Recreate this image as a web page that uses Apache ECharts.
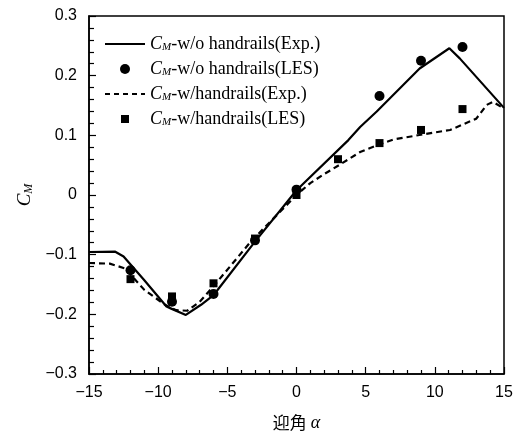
<!DOCTYPE html>
<html><head><meta charset="utf-8">
<script src="https://cdn.jsdelivr.net/npm/echarts@6/dist/echarts.min.js"></script>
<style>html,body{margin:0;padding:0;background:#fff}#c{width:528px;height:434px}</style>
</head><body><div id="c"></div>
<script>
// ---- data ----
const woExpX = [-15, -13.1, -12.5, -11, -9.4, -9.1, -8, -6.9, -6, -3.1, 0, 3.75, 4.6, 5.8, 8.9, 11.05, 11.8, 15];
const woExpY = [-0.0955, -0.095, -0.103, -0.143, -0.187, -0.19, -0.201, -0.184, -0.168, -0.081, 0.008, 0.092, 0.114, 0.14, 0.212, 0.246, 0.229, 0.146];
const woLesX = [-12, -9, -6, -3, 0, 6, 9, 12];
const woLesY = [-0.126, -0.179, -0.166, -0.076, 0.009, 0.166, 0.225, 0.248];
const wExpX = [-15, -13.5, -12.4, -11, -9.5, -8.7, -7.9, -7, -6, -3.3, 0, 1, 2, 3, 4.6, 6, 7, 9, 11.1, 13, 13.75, 14.2, 15];
const wExpY = [-0.114, -0.115, -0.123, -0.159, -0.184, -0.193, -0.194, -0.179, -0.153, -0.078, 0.0, 0.02, 0.035, 0.049, 0.072, 0.085, 0.093, 0.101, 0.109, 0.128, 0.151, 0.156, 0.145];
const wLesX = [-12, -9, -6, -3, 0, 3, 6, 9, 12];
const wLesY = [-0.141, -0.170, -0.148, -0.073, 0.0, 0.060, 0.087, 0.109, 0.144];
const seriesNames = ['w/o handrails(Exp.)', 'w/o handrails(LES)', 'w/handrails(Exp.)', 'w/handrails(LES)'];
const xTicks = [-15, -10, -5, 0, 5, 10, 15];
const xTickLabels = ['\u221215', '\u221210', '\u22125', '0', '5', '10', '15'];
const yTicks = [-0.3, -0.2, -0.1, 0, 0.1, 0.2, 0.3];
const yTickLabels = ['\u22120.3', '\u22120.2', '\u22120.1', '0', '0.1', '0.2', '0.3'];
const xName = '迎角';
const yName = 'C';

const zip = (xs, ys) => xs.map((x, i) => [x, ys[i]]);
const lab = (ticks, labels) => v => { const i = ticks.findIndex(t => Math.abs(t - v) < 1e-9); return i >= 0 ? labels[i] : ''; };

const serif = '"Liberation Serif", "DejaVu Serif", serif';
const sans = '"Liberation Sans", Arial, sans-serif';

const solidIcon = 'path://M0,4 h40 v2 h-40 z M0,0 L0,0 M40,10 L40,10';
const dashedIcon = 'path://M0,4 h5 v2 h-5 z M9,4 h5 v2 h-5 z M18,4 h5 v2 h-5 z M27,4 h5 v2 h-5 z M36,4 h4 v2 h-4 z M0,0 L0,0 M40,10 L40,10';
const squareIcon = 'path://M-1,-1 L-1,-1 M0,0 h8 v8 h-8 z M9,9 L9,9';

const chart = echarts.init(document.getElementById('c'));
chart.setOption({
  animation: false,
  backgroundColor: '#fff',
  grid: { left: 89, top: 16, right: 24, bottom: 60, containLabel: false, outerBoundsMode: 'none',
    show: true, borderColor: '#000', borderWidth: 1.5, backgroundColor: 'transparent' },
  xAxis: {
    type: 'value', min: -15, max: 15, interval: 5,
    axisLine: { onZero: false, lineStyle: { color: '#000', width: 1.5 } },
    axisTick: { inside: true, length: 7, lineStyle: { color: '#000', width: 1.2 } },
    minorTick: { show: true, splitNumber: 5, length: 4, lineStyle: { color: '#000', width: 1.2 } },
    splitLine: { show: false },
    axisLabel: { color: '#000', fontFamily: sans, fontSize: 16, margin: 11, formatter: lab(xTicks, xTickLabels) },
    name: xName + ' {a|α}', nameLocation: 'middle', nameGap: 40,
    nameTextStyle: { color: '#000', fontFamily: '"Noto Sans CJK JP", sans-serif', fontSize: 17,
      rich: { a: { fontFamily: serif, fontStyle: 'italic', fontSize: 18, color: '#000' } } }
  },
  yAxis: {
    type: 'value', min: -0.3, max: 0.3, interval: 0.1,
    axisLine: { onZero: false, lineStyle: { color: '#000', width: 1.5 } },
    axisTick: { inside: true, length: 7, lineStyle: { color: '#000', width: 1.2 } },
    minorTick: { show: true, splitNumber: 5, length: 5, lineStyle: { color: '#000', width: 1.2 } },
    splitLine: { show: false },
    axisLabel: { color: '#000', fontFamily: sans, fontSize: 16, margin: 12, formatter: lab(yTicks, yTickLabels) },
    name: '{c|' + yName + '}{m|M}', nameLocation: 'middle', nameGap: 52, nameRotate: 90,
    nameTextStyle: { color: '#000',
      rich: { c: { fontFamily: serif, fontStyle: 'italic', fontSize: 19, color: '#000' },
              m: { fontFamily: serif, fontStyle: 'italic', fontSize: 12, color: '#000', padding: [8, 0, 0, 0] } } }
  },
  legend: {
    left: 105, top: 34, orient: 'vertical', padding: 0, itemGap: 5, itemWidth: 40, itemHeight: 10,
    selectedMode: false,
    formatter: n => '{c|C}{m|M}{t|-' + n + '}',
    textStyle: { color: '#000', fontFamily: serif, fontSize: 18, lineHeight: 20,
      rich: { c: { fontFamily: serif, fontStyle: 'italic', fontSize: 18, color: '#000', lineHeight: 20 },
              m: { fontFamily: serif, fontStyle: 'italic', fontSize: 11, color: '#000', padding: [7, 0, 0, 0], lineHeight: 20 },
              t: { fontFamily: serif, fontSize: 18, color: '#000', lineHeight: 20 } } },
    data: [
      { name: seriesNames[0], icon: solidIcon, itemStyle: { color: '#000', opacity: 1 } },
      { name: seriesNames[1], icon: 'circle', itemStyle: { color: '#000', opacity: 1 } },
      { name: seriesNames[2], icon: dashedIcon, itemStyle: { color: '#000', opacity: 1 } },
      { name: seriesNames[3], icon: squareIcon, itemStyle: { color: '#000', opacity: 1 } }
    ]
  },
  series: [
    { name: seriesNames[0], type: 'line', data: zip(woExpX, woExpY), symbol: 'none', showSymbol: false,
      lineStyle: { color: '#000', width: 2.2 }, itemStyle: { color: '#000' } },
    { name: seriesNames[1], type: 'scatter', data: zip(woLesX, woLesY), symbol: 'circle', symbolSize: 10,
      itemStyle: { color: '#000', opacity: 1 } },
    { name: seriesNames[2], type: 'line', data: zip(wExpX, wExpY), symbol: 'none', showSymbol: false,
      lineStyle: { color: '#000', width: 2.2, type: [6, 4] }, itemStyle: { color: '#000' } },
    { name: seriesNames[3], type: 'scatter', data: zip(wLesX, wLesY), symbol: 'rect', symbolSize: 8,
      itemStyle: { color: '#000', opacity: 1 } }
  ]
});
</script></body></html>
